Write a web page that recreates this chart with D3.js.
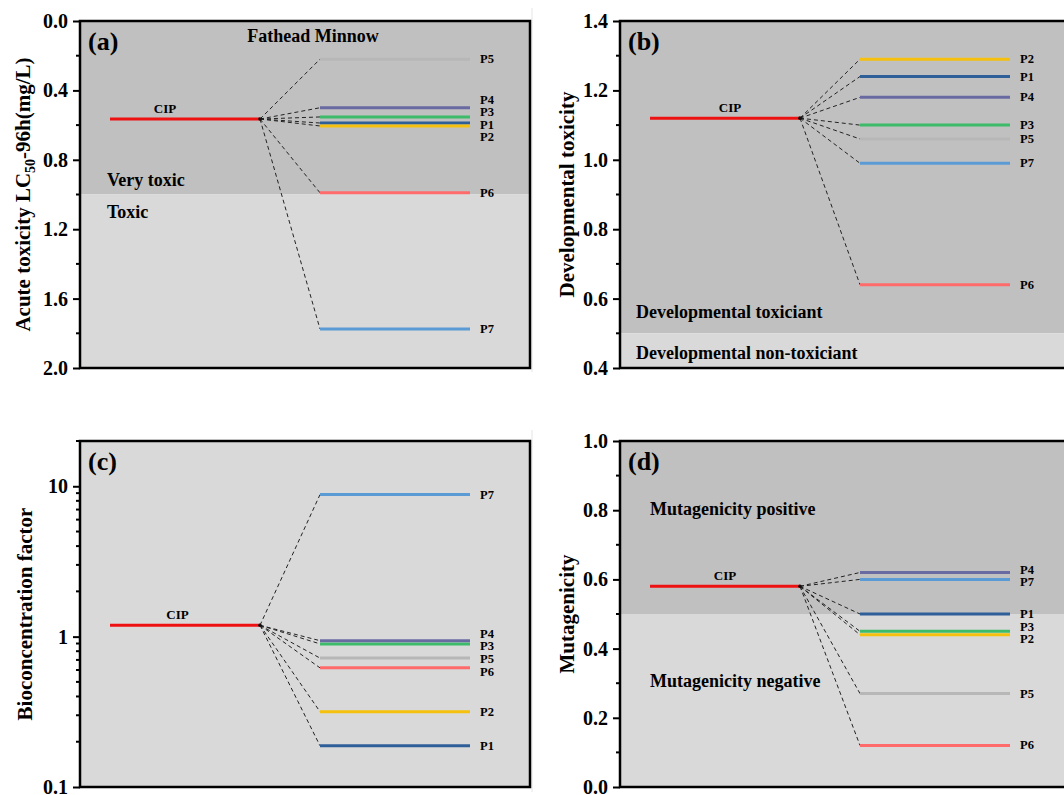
<!DOCTYPE html>
<html>
<head>
<meta charset="utf-8">
<script src="https://cdn.jsdelivr.net/npm/d3@7"></script>
<style>
  html, body { margin: 0; padding: 0; background: #fff; }
  svg { display: block; font-family: "Liberation Serif", "Times New Roman", serif; font-weight: bold; }
</style>
</head>
<body>
<svg id="chart" width="1064" height="795"></svg>
<script>
// ---------------- data ----------------
const products = ["P1", "P2", "P3", "P4", "P5", "P6", "P7"];
const productColors = ["#2f5f98", "#f5c10e", "#3dbb6b", "#6a6aa3", "#b7b7b7", "#ff6b6b", "#5b9bd5"];
const cipColor = "#ee1111";

// (a) Acute toxicity LC50-96h (mg/L), Fathead Minnow
const acuteCIP = 0.565;
const acuteValues = [0.588, 0.605, 0.553, 0.50, 0.22, 0.99, 1.775];
const acuteTicks = [0.0, 0.4, 0.8, 1.2, 1.6, 2.0];
const acuteMinor = [0.2, 0.6, 1.0, 1.4, 1.8];

// (b) Developmental toxicity
const devCIP = 1.12;
const devValues = [1.24, 1.29, 1.10, 1.18, 1.06, 0.64, 0.99];
const devTicks = [0.4, 0.6, 0.8, 1.0, 1.2, 1.4];
const devMinor = [0.5, 0.7, 0.9, 1.1, 1.3];

// (c) Bioconcentration factor (log scale)
const bcfCIP = 1.19;
const bcfValues = [0.188, 0.317, 0.895, 0.94, 0.72, 0.62, 8.8];
const bcfTicks = [0.1, 1, 10];
const bcfMinor = [0.2, 0.3, 0.4, 0.5, 0.6, 0.7, 0.8, 0.9, 2, 3, 4, 5, 6, 7, 8, 9, 20];

// (d) Mutagenicity
const mutCIP = 0.58;
const mutValues = [0.50, 0.44, 0.45, 0.62, 0.27, 0.12, 0.60];
const mutTicks = [0.0, 0.2, 0.4, 0.6, 0.8, 1.0];
const mutMinor = [0.1, 0.3, 0.5, 0.7, 0.9];

// ---------------- layout ----------------
const svg = d3.select("#chart");
const PW = 450;
const darkBg = "#c0c0c0", lightBg = "#d9d9d9";
// horizontal layout in panel units
const xScale = d3.scaleLinear().domain([0, 9]).range([0, PW]);
const cipX = [0.6, 3.6], prodX = [4.8, 7.8], labelX = 8.0;

const panels = [
  {
    left: 80, top: 21, bottom: 368, tag: "(a)", cipLabelX: 1.7,
    scale: d3.scaleLinear().domain([0, 2]), inverted: true,
    cip: acuteCIP, values: acuteValues, ticks: acuteTicks, minor: acuteMinor, fmt: d3.format(".1f"),
    regions: [[0, 1.0, darkBg], [1.0, 2.0, lightBg]],
    title: [["Acute toxicity LC", false], ["50", true], ["-96h(mg/L)", false]],
    titleX: -50,
    notes: [["Fathead Minnow", 313, 36, "middle"], ["Very toxic", 107, 180, "start"], ["Toxic", 107, 212, "start"]]
  },
  {
    left: 620, top: 21, bottom: 368, tag: "(b)", cipLabelX: 2.2,
    scale: d3.scaleLinear().domain([0.4, 1.4]), inverted: false,
    cip: devCIP, values: devValues, ticks: devTicks, minor: devMinor, fmt: d3.format(".1f"),
    regions: [[0.5, 1.4, darkBg], [0.4, 0.5, lightBg]],
    title: [["Developmental toxicity", false]],
    titleX: -46,
    notes: [["Developmental toxiciant", 636, 312, "start"], ["Developmental non-toxiciant", 636, 353, "start"]]
  },
  {
    left: 80, top: 441, bottom: 787, tag: "(c)", cipLabelX: 1.95,
    scale: d3.scaleLog().domain([0.1, 20]), inverted: false,
    cip: bcfCIP, values: bcfValues, ticks: bcfTicks, minor: bcfMinor, fmt: d => d3.format("~g")(d),
    regions: [[0.1, 20, lightBg]],
    title: [["Bioconcentration factor", false]],
    titleX: -48,
    notes: []
  },
  {
    left: 620, top: 441, bottom: 787, tag: "(d)", cipLabelX: 2.1,
    scale: d3.scaleLinear().domain([0, 1]), inverted: false,
    cip: mutCIP, values: mutValues, ticks: mutTicks, minor: mutMinor, fmt: d3.format(".1f"),
    regions: [[0.5, 1.0, darkBg], [0.0, 0.5, lightBg]],
    title: [["Mutagenicity", false]],
    titleX: -46,
    notes: [["Mutagenicity positive", 650, 509, "start"], ["Mutagenicity negative", 650, 681, "start"]]
  }
];

// faint sub-figure borders
[[532, 8, 372], [532, 430, 792]].forEach(([x, y0, y1]) => {
  svg.append("line").attr("x1", x).attr("x2", x).attr("y1", y0).attr("y2", y1)
    .attr("stroke", "#e4e4e4").attr("stroke-width", 1);
});

function declutter(targets, gap) {
  const sorted = targets.slice().sort((a, b) => a.y - b.y);
  const clusters = [];
  sorted.forEach(t => {
    let c = { items: [t], sum: t.y, start: t.y };
    while (clusters.length) {
      const prev = clusters[clusters.length - 1];
      const prevEnd = prev.start + (prev.items.length - 1) * gap;
      if (c.start < prevEnd + gap) {
        clusters.pop();
        const items = prev.items.concat(c.items);
        const sum = prev.sum + c.sum;
        c = { items, sum, start: sum / items.length - (items.length - 1) * gap / 2 };
      } else break;
    }
    clusters.push(c);
  });
  const out = {};
  clusters.forEach(c => c.items.forEach((t, k) => out[t.i] = c.start + k * gap));
  return out;
}

panels.forEach(p => {
  const H = p.bottom - p.top;
  const y = p.scale.copy().range(p.inverted ? [0, H] : [H, 0]);
  const g = svg.append("g").attr("transform", `translate(${p.left},${p.top})`);

  // background regions
  p.regions.forEach(([a, b, col]) => {
    const y0 = y(a), y1 = y(b);
    g.append("rect").attr("x", 0).attr("width", PW)
      .attr("y", Math.min(y0, y1)).attr("height", Math.abs(y1 - y0)).attr("fill", col);
  });

  // connectors
  const cipY = y(p.cip);
  p.values.forEach((v, i) => {
    g.append("line")
      .attr("x1", xScale(cipX[1])).attr("y1", cipY)
      .attr("x2", xScale(prodX[0])).attr("y2", y(v))
      .attr("stroke", "#222").attr("stroke-width", 1).attr("stroke-dasharray", "4,3");
  });

  // CIP line
  g.append("line").attr("x1", xScale(cipX[0])).attr("x2", xScale(cipX[1]))
    .attr("y1", cipY).attr("y2", cipY).attr("stroke", cipColor).attr("stroke-width", 3);
  g.append("text").attr("x", xScale(p.cipLabelX)).attr("y", cipY - 6)
    .attr("text-anchor", "middle").attr("font-size", 13).text("CIP");
  g.append("circle").attr("cx", xScale(cipX[1])).attr("cy", cipY).attr("r", 1.8).attr("fill", "#111");

  // product lines
  p.values.forEach((v, i) => {
    g.append("line").attr("x1", xScale(prodX[0])).attr("x2", xScale(prodX[1]))
      .attr("y1", y(v)).attr("y2", y(v)).attr("stroke", productColors[i]).attr("stroke-width", 3);
  });
  const labY = declutter(p.values.map((v, i) => ({ i, y: y(v) })), 12.6);
  p.values.forEach((v, i) => {
    g.append("text").attr("x", xScale(labelX)).attr("y", labY[i])
      .attr("dominant-baseline", "central").attr("font-size", 12.5).text(products[i]);
  });

  // axis
  const axis = d3.axisLeft(y).tickValues(p.ticks).tickFormat(p.fmt).tickSize(7).tickPadding(5);
  const ax = g.append("g").call(axis);
  ax.select(".domain").remove();
  ax.selectAll(".tick line").attr("stroke", "#000").attr("stroke-width", 2);
  ax.selectAll(".tick text").attr("font-size", 20).attr("font-weight", "bold")
    .attr("font-family", "Liberation Serif, Times New Roman, serif").attr("fill", "#000");
  g.selectAll(".minor").data(p.minor).enter().append("line")
    .attr("x1", -4).attr("x2", 0).attr("y1", d => y(d)).attr("y2", d => y(d))
    .attr("stroke", "#000").attr("stroke-width", 2);

  // frame
  g.append("rect").attr("x", 0).attr("y", 0).attr("width", PW).attr("height", H)
    .attr("fill", "none").attr("stroke", "#000").attr("stroke-width", 2.5);

  // tag
  g.append("text").attr("x", 8).attr("y", 29).attr("font-size", 26).text(p.tag);

  // notes
  p.notes.forEach(([t, x, yy, anchor]) => {
    svg.append("text").attr("x", x).attr("y", yy).attr("dominant-baseline", "central")
      .attr("text-anchor", anchor).attr("font-size", 18).text(t);
  });

  // y title
  const tt = g.append("text").attr("transform", `translate(${p.titleX},${H / 2}) rotate(-90)`)
    .attr("text-anchor", "middle").attr("font-size", 21);
  p.title.forEach(([s, sub]) => {
    const ts = tt.append("tspan").text(s);
    if (sub) ts.attr("font-size", 14).attr("dy", 5);
    else if (tt.selectAll("tspan").size() > 1) ts.attr("dy", -5);
  });
});
</script>
</body>
</html>
